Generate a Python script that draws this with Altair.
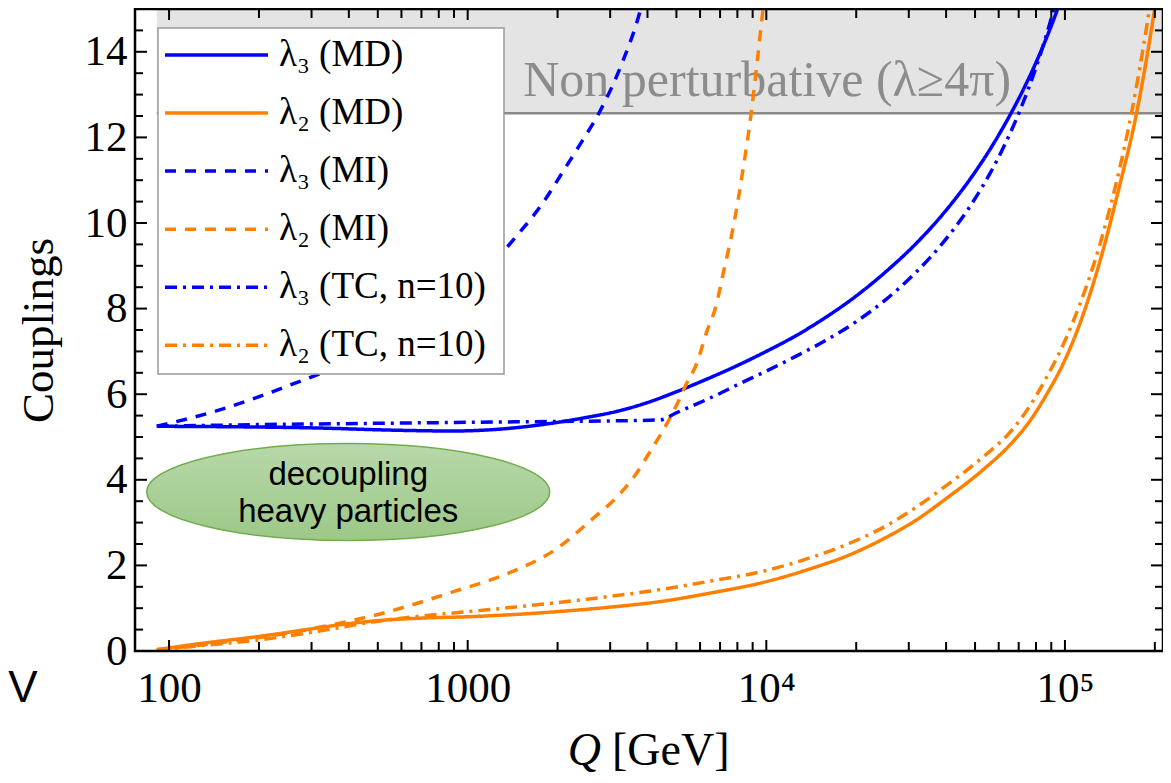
import altair as alt
import pandas as pd

SERIF = "Liberation Serif"
SANS = "Liberation Sans"

# ---------------- data ----------------
SERIES = ["λ₃ (MD)", "λ₂ (MD)", "λ₃ (MI)", "λ₂ (MI)", "λ₃ (TC, n=10)", "λ₂ (TC, n=10)"]
COLORS = ["#0000ff", "#ff8000", "#0000ff", "#ff8000", "#0000ff", "#ff8000"]
DASHES = [[1, 0], [1, 0], [11, 9], [11, 9], [12, 6, 3, 6], [12, 6, 3, 6]]

Q_L3_MD = [91, 158, 316, 562, 891, 1259, 1862, 2512, 3162, 3981, 5012, 6310, 7943,
           10000, 12589, 15849, 19953, 25119, 31623, 39811, 50119, 56234, 63096,
           70795, 79433, 89125, 100000]
L3_MD = [5.25, 5.24, 5.21, 5.16, 5.14, 5.18, 5.31, 5.46, 5.60, 5.80, 6.06, 6.35, 6.66,
         7.00, 7.37, 7.80, 8.29, 8.86, 9.51, 10.28, 11.20, 11.73, 12.32,
         12.97, 13.70, 14.53, 15.47]

Q_L2_MD = [91, 126, 200, 282, 380, 501, 708, 1000, 1413, 1995, 2951, 4467, 6457, 10000,
           14322, 19055, 25119, 31623, 39811, 52481, 67143, 75858, 86896, 100000,
           112202, 130918, 152757, 173780, 186209, 197697, 208930]
L2_MD = [0.03, 0.17, 0.34, 0.49, 0.62, 0.71, 0.77, 0.80, 0.85, 0.92, 1.02, 1.16, 1.35, 1.62,
         1.94, 2.25, 2.65, 3.05, 3.55, 4.2, 4.9, 5.35, 6.0, 6.8,
         7.65, 9.1, 10.9, 12.57, 13.7, 14.8, 15.9]

Q_L3_MI = [91, 103, 144, 196, 267, 307, 398, 562, 794, 1000, 1349, 1455, 1786, 2084,
           2371, 2767, 3311, 3767, 3890]
L3_MI = [5.25, 5.34, 5.61, 5.92, 6.27, 6.43, 6.75, 7.3, 8.0, 8.55, 9.42, 9.69, 10.47, 11.2,
         11.82, 12.6, 13.79, 14.92, 15.3]

Q_L2_MI = [91, 158, 251, 389, 479, 631, 891, 1349, 1995, 2630, 3162, 3631, 4074, 4508,
           5012, 5408, 5834, 6310, 6808, 7161, 7745, 8356, 8913, 9333, 9772, 10000]
L2_MI = [0.03, 0.22, 0.42, 0.68, 0.82, 1.05, 1.38, 1.8, 2.4, 3.1, 3.6, 4.1, 4.65, 5.15,
         5.75, 6.25, 6.7, 7.45, 8.1, 8.8, 9.9, 11.25, 12.6, 13.8, 15.05, 15.6]

Q_L3_TC = [91, 200, 501, 1259, 2512, 4416, 5012, 5754, 6808, 7943, 10000, 12589, 15849,
           19953, 25119, 31623, 39811, 50119, 56234, 63096, 70795, 79433, 89125, 93325]
L3_TC = [5.25, 5.29, 5.32, 5.35, 5.37, 5.40, 5.57, 5.75, 5.98, 6.21, 6.54, 6.89, 7.26,
         7.69, 8.21, 8.84, 9.61, 10.58, 11.17, 11.85, 12.64, 13.57, 14.68, 15.19]

Q_L2_TC = [91, 126, 200, 316, 479, 708, 1000, 1413, 1995, 2951, 4467, 6457, 10000,
           14322, 19055, 25119, 31623, 39811, 52481, 67143, 75858, 86896, 100000,
           112202, 130918, 152757, 167109, 177828, 187932, 199526]
L2_TC = [0.03, 0.12, 0.26, 0.46, 0.68, 0.82, 0.92, 1.02, 1.13, 1.27, 1.44, 1.63, 1.88,
         2.2, 2.52, 2.92, 3.35, 3.85, 4.5, 5.2, 5.7, 6.4, 7.25,
         8.1, 9.5, 11.3, 12.57, 13.6, 14.6, 15.8]

SERIES_Q = [Q_L3_MD, Q_L2_MD, Q_L3_MI, Q_L2_MI, Q_L3_TC, Q_L2_TC]
SERIES_Y = [L3_MD, L2_MD, L3_MI, L2_MI, L3_TC, L2_TC]

X_MAJOR = [100, 1000, 10000, 100000]
X_MINOR = [200, 300, 400, 500, 600, 700, 800, 900,
           2000, 3000, 4000, 5000, 6000, 7000, 8000, 9000,
           20000, 30000, 40000, 50000, 60000, 70000, 80000, 90000, 200000]
Y_MAJOR = [0, 2, 4, 6, 8, 10, 12, 14]
Y_MINOR = [0.5, 1, 1.5, 2.5, 3, 3.5, 4.5, 5, 5.5, 6.5, 7, 7.5, 8.5, 9, 9.5,
           10.5, 11, 11.5, 12.5, 13, 13.5, 14.5]

XMIN, XMAX = 76.9, 213000
YMIN, YMAX = 0, 15
FOUR_PI = 12.566
BAND_START = 91

NOTE_TEXT = ["Non perturbative (λ≥4π)"]
NOTE_Q, NOTE_Y = [1535], [12.97]
ELLIPSE_Q, ELLIPSE_Y = [398], [3.715]
ELLIPSE_LINES = ["decoupling", "heavy particles"]
ELLIPSE_LINE_Q = [398, 398]
ELLIPSE_LINE_Y = [3.867, 3.012]

# ---------------- tables ----------------
rows = []
for name, qs, ys in zip(SERIES, SERIES_Q, SERIES_Y):
    for q, y in zip(qs, ys):
        rows.append({"Q": q, "lam": y, "series": name})
curves_df = pd.DataFrame(rows)
band_df = pd.DataFrame({"x0": [BAND_START], "x1": [XMAX], "y0": [FOUR_PI], "y1": [YMAX]})
note_df = pd.DataFrame({"Q": NOTE_Q, "lam": NOTE_Y, "label": NOTE_TEXT})
ell_df = pd.DataFrame({"Q": ELLIPSE_Q, "lam": ELLIPSE_Y})
ell_txt_df = pd.DataFrame({"Q": ELLIPSE_LINE_Q, "lam": ELLIPSE_LINE_Y, "label": ELLIPSE_LINES})
legend_df = pd.DataFrame({"series": SERIES, "row": list(range(len(SERIES)))})
one_df = pd.DataFrame({"Q": [1000], "lam": [5]})
xmaj_df = pd.DataFrame({"t": X_MAJOR})
xmin_df = pd.DataFrame({"t": X_MINOR})
ymaj_df = pd.DataFrame({"t": Y_MAJOR})
ymin_df = pd.DataFrame({"t": Y_MINOR})

W, H = 1028, 642

xscale = alt.Scale(type="log", domain=[XMIN, XMAX], nice=False)
yscale = alt.Scale(domain=[YMIN, YMAX], nice=False, zero=False)
cscale = alt.Scale(domain=SERIES, range=COLORS)
dscale = alt.Scale(domain=SERIES, range=DASHES)

band = alt.Chart(band_df).mark_rect(fill="#e4e4e4", clip=True).encode(
    x=alt.X("x0:Q", scale=xscale, axis=None), x2="x1:Q",
    y=alt.Y("y0:Q", scale=yscale, axis=None), y2="y1:Q")
band_line = alt.Chart(band_df).mark_rule(color="#8a8a8a", strokeWidth=2.5, clip=True).encode(
    x=alt.X("x0:Q", scale=xscale, axis=None), x2="x1:Q",
    y=alt.Y("y0:Q", scale=yscale, axis=None))
band_text = alt.Chart(note_df).mark_text(
    align="left", baseline="alphabetic", font=SERIF, fontSize=50, color="#8c8c8c").encode(
    x=alt.X("Q:Q", scale=xscale, axis=None), y=alt.Y("lam:Q", scale=yscale, axis=None),
    text="label:N")

curves = alt.Chart(curves_df).mark_line(
    strokeWidth=3.5, interpolate="monotone", clip=True, strokeCap="butt").encode(
    x=alt.X("Q:Q", scale=xscale, axis=None),
    y=alt.Y("lam:Q", scale=yscale, axis=None),
    color=alt.Color("series:N", scale=cscale, legend=None),
    strokeDash=alt.StrokeDash("series:N", scale=dscale, legend=None),
    detail="series:N")

# legend (manual, inside plot)
legend_box = alt.Chart(one_df).mark_rect(
    fill="white", stroke="#9a9a9a", strokeWidth=1.5).encode(
    x=alt.value(23), x2=alt.value(369), y=alt.value(19), y2=alt.value(365))
legend_lines = alt.Chart(legend_df).transform_calculate(
    ly="46 + 58.06 * datum.row").mark_rule(strokeWidth=3.5, strokeCap="butt").encode(
    x=alt.value(30), x2=alt.value(133),
    y=alt.Y("ly:Q", scale=None, axis=None),
    color=alt.Color("series:N", scale=cscale, legend=None),
    strokeDash=alt.StrokeDash("series:N", scale=dscale, legend=None))
legend_labels = alt.Chart(legend_df).transform_calculate(
    ly="46 + 58.06 * datum.row").mark_text(
    align="left", baseline="middle", font=SERIF, fontSize=37, color="black").encode(
    x=alt.value(144), y=alt.Y("ly:Q", scale=None, axis=None), text="series:N")

ELLIPSE_PATH = "M-1,0 A1,0.2407 0 1,0 1,0 A1,0.2407 0 1,0 -1,0 Z"
ellipse = alt.Chart(ell_df).mark_point(
    shape=ELLIPSE_PATH, size=162409, filled=True, opacity=1,
    fill=alt.Gradient(gradient="linear",
                      stops=[alt.GradientStop(color="#b8d8aa", offset=0),
                             alt.GradientStop(color="#9cc888", offset=1)],
                      x1=0, x2=0, y1=0, y2=1),
    stroke="#72ad4c", strokeWidth=1.5).encode(
    x=alt.X("Q:Q", scale=xscale, axis=None), y=alt.Y("lam:Q", scale=yscale, axis=None))
ellipse_text = alt.Chart(ell_txt_df).mark_text(
    align="center", baseline="alphabetic", font=SANS, fontSize=33, color="black").encode(
    x=alt.X("Q:Q", scale=xscale, axis=None), y=alt.Y("lam:Q", scale=yscale, axis=None),
    text="label:N")

xt_q = alt.Chart(one_df).mark_text(
    text="Q", align="right", baseline="alphabetic", font=SERIF, fontSize=46,
    fontStyle="italic", color="black").encode(x=alt.value(466), y=alt.value(756))
xt_unit = alt.Chart(one_df).mark_text(
    text="[GeV]", align="left", baseline="alphabetic", font=SERIF, fontSize=46,
    color="black").encode(x=alt.value(477), y=alt.value(756))
v_frag = alt.Chart(one_df).mark_text(
    text="V", align="center", baseline="alphabetic", font=SANS, fontSize=44,
    color="black").encode(x=alt.value(-112), y=alt.value(693))


# inward ticks on all four sides, placed through the x / y scales
def xticks(df, y_from, y_to):
    return alt.Chart(df).mark_rule(color="black", strokeWidth=2).encode(
        x=alt.X("t:Q", scale=xscale, axis=None), y=alt.value(y_from), y2=alt.value(y_to))


def yticks(df, x_from, x_to):
    return alt.Chart(df).mark_rule(color="black", strokeWidth=2).encode(
        y=alt.Y("t:Q", scale=yscale, axis=None), x=alt.value(x_from), x2=alt.value(x_to))


tick_layers = [
    xticks(xmaj_df, H, H - 11), xticks(xmin_df, H, H - 9),
    xticks(xmaj_df, 0, 11), xticks(xmin_df, 0, 9),
    yticks(ymaj_df, 0, 12), yticks(ymin_df, 0, 8),
    yticks(ymaj_df, W, W - 12), yticks(ymin_df, W, W - 8),
]

frame = alt.Chart(one_df).mark_rect(
    fillOpacity=0, stroke="black", strokeWidth=2.5).encode(
    x=alt.value(0), x2=alt.value(W), y=alt.value(0), y2=alt.value(H))

x_labels = alt.Axis(
    orient="bottom", values=X_MAJOR, ticks=False, tickSize=0, domain=False, grid=False,
    title=None, labelFont=SERIF, labelFontSize=43, labelColor="black",
    labelBaseline="alphabetic", labelPadding=50, labelFlush=False, labelOverlap=False,
    labelExpr="datum.value == 10000 ? '10⁴' : (datum.value == 100000 ? '10⁵' : format(datum.value, 'd'))")
y_labels = alt.Axis(
    orient="left", values=Y_MAJOR, ticks=False, tickSize=0, domain=False, grid=False,
    labelFont=SERIF, labelFontSize=43, labelColor="black", labelPadding=8,
    labelFlush=False, labelOverlap=False, format="d",
    title="Couplings", titleFont=SERIF, titleFontSize=45, titleFontWeight="normal",
    titleColor="black", titleX=-83, titleY=321, titleBaseline="alphabetic",
    titleAlign="center")

ax1 = alt.Chart(one_df).mark_point(opacity=0).encode(
    x=alt.X("Q:Q", scale=xscale, axis=x_labels),
    y=alt.Y("lam:Q", scale=yscale, axis=y_labels))

chart = alt.layer(
    band, band_line, band_text, curves, legend_box, legend_lines, legend_labels,
    ellipse, ellipse_text, xt_q, xt_unit, v_frag, *tick_layers, frame, ax1
).resolve_axis(x="independent", y="independent").properties(
    width=W, height=H,
    padding={"left": 127, "top": 1, "right": 0, "bottom": 124},
    autosize=alt.AutoSizeParams(type="none"),
).configure_view(stroke=None).configure(background="white")

chart.save("out.html", embed_options={"renderer": "svg", "actions": False})
